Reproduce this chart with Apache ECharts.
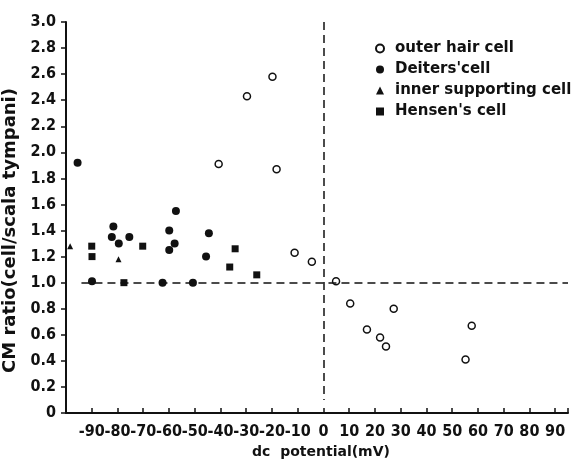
<!DOCTYPE HTML>
<html>
<head>
    <meta charset="UTF-8">
    <title>CM ratio vs dc potential</title>
    <style>
        body{ margin:0; background-color:#ffffff; }
        #main{ width:585px; height:460px; }
    </style>
    <script src="https://cdn.jsdelivr.net/npm/echarts@6/dist/echarts.min.js"></script>
</head>
<body>
<div id="main"></div>
<script type="text/javascript">
    // values
    var outerX = [-40.7, -29.7, -19.8, -18.2, -11.2, -4.5, 4.9, 10.4, 16.9, 22.0, 24.3, 27.3, 55.2, 57.6];
    var outerY = [1.91, 2.43, 2.58, 1.87, 1.23, 1.16, 1.01, 0.84, 0.64, 0.58, 0.51, 0.80, 0.41, 0.67];

    var deitersX = [-95.5, -89.9, -82.2, -81.6, -79.5, -75.4, -62.5, -59.9, -59.9, -57.8, -57.3, -50.7, -45.6, -44.5];
    var deitersY = [1.92, 1.01, 1.35, 1.43, 1.30, 1.35, 1.00, 1.40, 1.25, 1.30, 1.55, 1.00, 1.20, 1.38];

    var innerX = [-98.4, -79.6];
    var innerY = [1.28, 1.18];

    var hensenX = [-90.0, -89.9, -77.5, -70.2, -36.4, -34.3, -25.9];
    var hensenY = [1.28, 1.20, 1.00, 1.28, 1.12, 1.26, 1.06];

    var xTicks = [-90, -80, -70, -60, -50, -40, -30, -20, -10, 0, 10, 20, 30, 40, 50, 60, 70, 80, 90];
    // -100 gets an empty label so the real first label isn't treated as the "min" one
    var xLabels = [-100].concat(xTicks);

    function pairs(xs, ys){
        var out = [];
        for (var i = 0; i < xs.length; i++) out.push([xs[i], ys[i]]);
        return out;
    }

    var tickFont = "'Liberation Sans Narrow', 'DejaVu Sans Condensed', sans-serif";
    var textFont = "'DejaVu Sans', sans-serif";
    var ink = '#111111';

    var myChart = echarts.init(document.getElementById('main'));
    var option = {
        backgroundColor: '#ffffff',
        animation: false,
        grid: { left: 66, right: 17, top: 22, bottom: 47, outerBoundsMode: 'none' },
        legend: {
            orient: 'vertical',
            left: 370,
            top: 36,
            itemWidth: 8,
            itemHeight: 8,
            itemGap: 6,
            textStyle: { fontFamily: textFont, fontWeight: 'bold', fontSize: 15, color: ink, padding: [0, 0, 0, 6] },
            data: ['outer hair cell', "Deiters'cell", 'inner supporting cell', "Hensen's cell"]
        },
        xAxis: {
            type: 'value',
            min: -100,
            max: 95,
            interval: 10,
            name: 'dc  potential(mV)',
            nameLocation: 'middle',
            nameGap: 31,
            nameTextStyle: { fontFamily: textFont, fontWeight: 'bold', fontSize: 14, color: ink, padding: [0, 0, 0, 8] },
            splitLine: { show: false },
            axisLine: { onZero: false, lineStyle: { color: ink, width: 2 } },
            axisTick: { show: true, inside: true, length: 5, lineStyle: { color: ink, width: 1.5 } },
            axisLabel: {
                customValues: xLabels,
                hideOverlap: false,
                margin: 11,
                fontFamily: tickFont, fontWeight: 'bold', fontSize: 16, color: ink,
                formatter: function(v){ return v === -100 ? '' : String(v); }
            }
        },
        yAxis: {
            type: 'value',
            min: 0,
            max: 3.0,
            interval: 0.2,
            name: 'CM ratio(cell/scala tympani)',
            nameLocation: 'middle',
            nameGap: 34,
            nameTextStyle: { fontFamily: textFont, fontWeight: 'bold', fontSize: 18, color: ink, padding: [0, 26, 0, 0] },
            splitLine: { show: false },
            axisLine: { onZero: false, lineStyle: { color: ink, width: 2 } },
            axisTick: { show: true, length: 5, lineStyle: { color: ink, width: 1.5 } },
            axisLabel: {
                margin: 10,
                showMinLabel: true,
                showMaxLabel: true,
                fontFamily: tickFont, fontWeight: 'bold', fontSize: 16, color: ink,
                formatter: function(v){ return v === 0 ? '0' : v.toFixed(1); }
            }
        },
        series: [
            {
                name: 'outer hair cell',
                type: 'scatter',
                symbol: 'circle',
                symbolSize: 7,
                itemStyle: { color: '#ffffff', borderColor: ink, borderWidth: 1.5, opacity: 1 },
                data: pairs(outerX, outerY),
                markLine: {
                    silent: true,
                    symbol: 'none',
                    label: { show: false },
                    lineStyle: { color: ink, width: 1.5, type: [8, 5] },
                    data: [
                        [{ coord: [0, 3.0] }, { coord: [0, 0.1] }],
                        [{ coord: [-94, 1.0] }, { coord: [95, 1.0] }]
                    ]
                }
            },
            {
                name: "Deiters'cell",
                type: 'scatter',
                symbol: 'circle',
                symbolSize: 8,
                itemStyle: { color: ink, opacity: 1 },
                data: pairs(deitersX, deitersY)
            },
            {
                name: 'inner supporting cell',
                type: 'scatter',
                symbol: 'triangle',
                symbolSize: 6,
                itemStyle: { color: ink, opacity: 1 },
                data: pairs(innerX, innerY)
            },
            {
                name: "Hensen's cell",
                type: 'scatter',
                symbol: 'rect',
                symbolSize: 7,
                itemStyle: { color: ink, opacity: 1 },
                data: pairs(hensenX, hensenY)
            }
        ]
    };
    myChart.setOption(option);
</script>
</body>
</html>
